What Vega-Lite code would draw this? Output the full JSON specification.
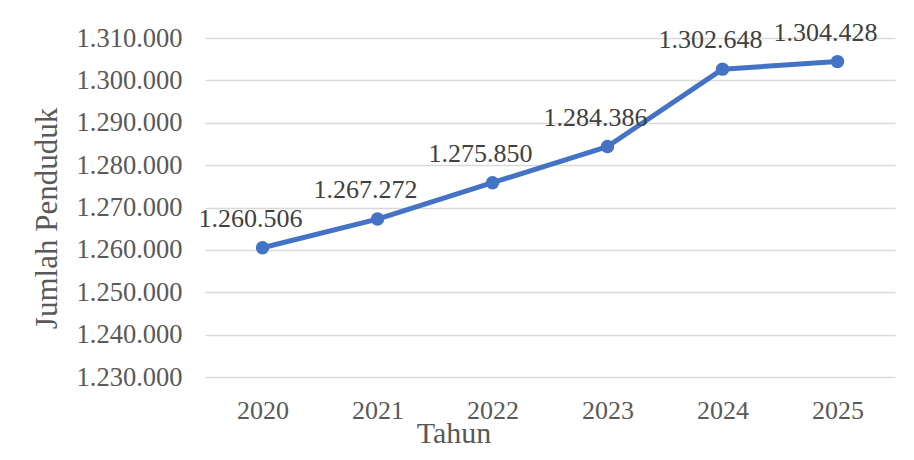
{
  "$schema": "https://vega.github.io/schema/vega-lite/v6.json",
  "autosize": "none",
  "width": 690,
  "height": 339,
  "padding": {"left": 205, "top": 38, "right": 19, "bottom": 83},
  "background": "white",
  "config": {
    "locale": {"number": {"decimal": ",", "thousands": ".", "grouping": [3], "currency": ["Rp", ""]}},
    "view": {"stroke": null},
    "font": "Liberation Serif"
  },
  "data": {
    "values": [
      {"Tahun": "2020", "Jumlah": 1260506},
      {"Tahun": "2021", "Jumlah": 1267272},
      {"Tahun": "2022", "Jumlah": 1275850},
      {"Tahun": "2023", "Jumlah": 1284386},
      {"Tahun": "2024", "Jumlah": 1302648},
      {"Tahun": "2025", "Jumlah": 1304428}
    ]
  },
  "encoding": {
    "x": {
      "field": "Tahun",
      "type": "ordinal",
      "scale": {"type": "point", "padding": 0.5},
      "axis": {
        "title": "Tahun",
        "labelAngle": 0,
        "domain": false,
        "ticks": false,
        "tickSize": 0,
        "grid": false,
        "labelFont": "Liberation Serif",
        "labelFontSize": 26,
        "labelColor": "#595959",
        "labelBaseline": "alphabetic",
        "labelPadding": 41,
        "titleFont": "Liberation Serif",
        "titleFontSize": 30,
        "titleFontWeight": "normal",
        "titleColor": "#595959",
        "titleBaseline": "alphabetic",
        "titleX": 248.5,
        "titleY": 65,
        "titleAlign": "center"
      }
    },
    "y": {
      "field": "Jumlah",
      "type": "quantitative",
      "scale": {"domain": [1230000, 1310000], "nice": false, "zero": false},
      "axis": {
        "title": "Jumlah Penduduk",
        "values": [1230000, 1240000, 1250000, 1260000, 1270000, 1280000, 1290000, 1300000, 1310000],
        "format": ",d",
        "domain": false,
        "ticks": false,
        "tickSize": 0,
        "grid": true,
        "gridColor": "#D9D9D9",
        "gridWidth": 1.5,
        "labelFont": "Liberation Serif",
        "labelFontSize": 26.5,
        "labelColor": "#595959",
        "labelPadding": 23,
        "titleFont": "Liberation Serif",
        "titleFontSize": 31,
        "titleFontWeight": "normal",
        "titleColor": "#595959",
        "titleBaseline": "alphabetic",
        "titleAngle": 270,
        "titleAlign": "center",
        "titleX": -148.5,
        "titleY": 180
      }
    }
  },
  "layer": [
    {"mark": {"type": "line", "color": "#4472C4", "strokeWidth": 5, "strokeCap": "round", "strokeJoin": "round"}},
    {"mark": {"type": "point", "filled": true, "color": "#4472C4", "size": 180, "opacity": 1}},
    {
      "mark": {"type": "text", "font": "Liberation Serif", "fontSize": 26, "color": "#404040", "baseline": "alphabetic", "align": "center", "dx": -12, "dy": -21},
      "encoding": {"text": {"field": "Jumlah", "type": "quantitative", "format": ",d"}}
    }
  ]
}
